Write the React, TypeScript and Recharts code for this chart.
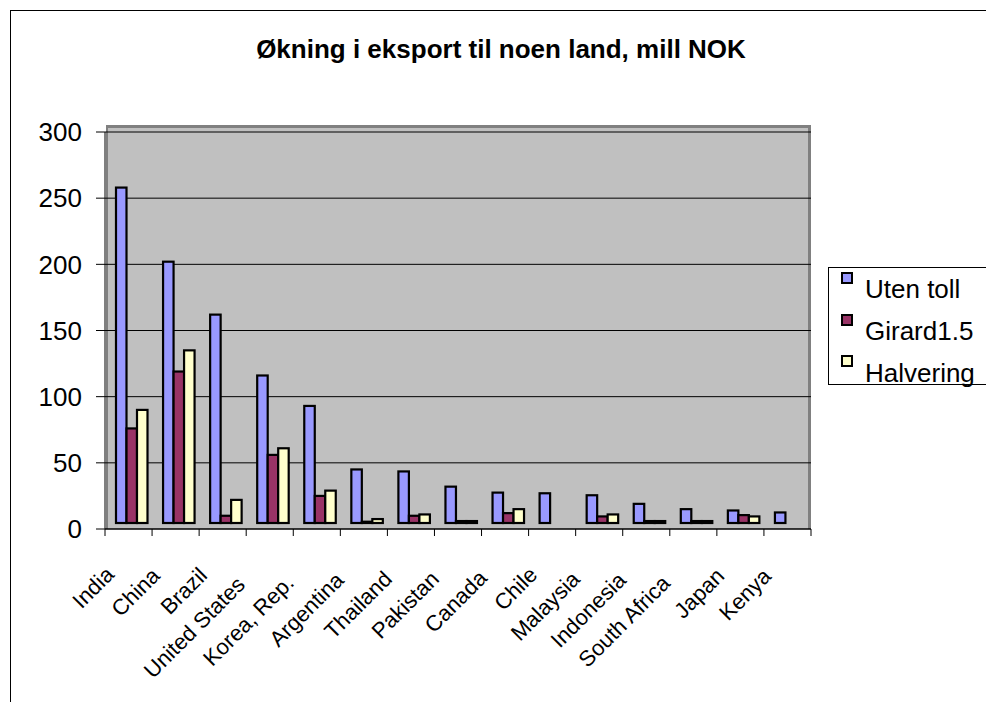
import React from 'react';
import { BarChart, Bar, XAxis, YAxis, CartesianGrid, Legend } from 'recharts';

const categories = [
  'India', 'China', 'Brazil', 'United States', 'Korea, Rep.', 'Argentina', 'Thailand',
  'Pakistan', 'Canada', 'Chile', 'Malaysia', 'Indonesia', 'South Africa', 'Japan', 'Kenya',
];
const utenToll = [258, 202, 162, 116, 93, 45, 43.5, 32, 27.5, 27, 25.5, 19, 15, 14, 12.5];
const girard = [76, 119, 10, 56, 25, 5.5, 10, 6, 12, 0, 9.5, 6, 6, 10.5, 0];
const halvering = [90, 135, 22, 61, 29, 7.5, 11, 6, 15, 0, 11, 6, 6, 9.5, 0];
const yTicks = [0, 50, 100, 150, 200, 250, 300];
const seriesKeys = ['u', 'g', 'h'];
const seriesNames = ['Uten toll', 'Girard1.5', 'Halvering'];
const seriesColors = ['#9999FF', '#993366', '#FFFFCC'];
const title = 'Økning i eksport til noen land, mill NOK';

const data = categories.map((c, i) => ({ name: c, u: utenToll[i], g: girard[i], h: halvering[i] }));

const FONT = "'Liberation Sans', Arial, sans-serif";
const X_TICK_SIZE = 8;

let ctx: CanvasRenderingContext2D | null = null;
function measure(text: string, size: number): number {
  try {
    if (!ctx) ctx = document.createElement('canvas').getContext('2d');
    if (ctx) {
      ctx.font = `${size}px ${FONT}`;
      return ctx.measureText(text).width;
    }
  } catch (e) {}
  return text.length * size * 0.5;
}

const XTick = (props: any) => {
  const { x, y, payload, index, visibleTicksCount, width } = props;
  const count = visibleTicksCount || categories.length;
  const band = (width || 706) / count;
  const axisY = y - X_TICK_SIZE;
  const L = measure(String(payload.value), 22);
  const px = x - 7.5 - 0.12 * L;
  const py = axisY + 41.2 + 0.12 * L;
  return (
    <g>
      <line x1={x - band / 2} x2={x - band / 2} y1={axisY} y2={axisY + 7} stroke="#000" strokeWidth={1} />
      {index === count - 1 && (
        <line x1={x + band / 2} x2={x + band / 2} y1={axisY} y2={axisY + 7} stroke="#000" strokeWidth={1} />
      )}
      <text
        x={px}
        y={py}
        textAnchor="end"
        fontSize={22}
        fontFamily={FONT}
        fill="#000"
        transform={`rotate(-45 ${px} ${py})`}
      >
        {payload.value}
      </text>
    </g>
  );
};

const Shape3D = (props: any) => {
  const { x, y, width, height, fill } = props;
  const h = height - 6;
  if (!(h > 0)) return <g />;
  return <rect x={x + 3} y={y} width={width} height={h} fill={fill} stroke="#000" strokeWidth={2.2} />;
};

const LegendBox = (props: any) => {
  const payload = [...(props.payload || [])].sort(
    (a: any, b: any) => seriesNames.indexOf(a.value) - seriesNames.indexOf(b.value)
  );
  return (
    <div
      style={{
        position: 'relative',
        width: 175,
        height: 118,
        boxSizing: 'border-box',
        border: '1px solid #000',
        background: '#fff',
        fontFamily: FONT,
      }}
    >
      {payload.map((p: any, i: number) => (
        <React.Fragment key={i}>
          <div
            style={{
              position: 'absolute',
              left: 12,
              top: 4 + 41.6 * i,
              width: 12,
              height: 12,
              boxSizing: 'border-box',
              border: '2px solid #000',
              background: p.color,
            }}
          />
          <div
            style={{
              position: 'absolute',
              left: 36,
              top: 8.3 + 41.6 * i,
              fontSize: 26,
              lineHeight: '26px',
              color: '#000',
              whiteSpace: 'nowrap',
            }}
          >
            {p.value}
          </div>
        </React.Fragment>
      ))}
    </div>
  );
};

export default function App() {
  return (
    <div
      style={{
        position: 'relative',
        left: 2,
        top: 2,
        width: 980,
        height: 720,
        border: '1px solid #000',
        overflow: 'hidden',
        background: '#fff',
        fontFamily: FONT,
      }}
    >
      <style>{`html,body{overflow:hidden}`}</style>
      <div
        style={{
          position: 'absolute',
          left: 0,
          top: 25,
          width: 980,
          textAlign: 'center',
          fontSize: 26,
          lineHeight: '26px',
          fontWeight: 'bold',
          color: '#000',
          whiteSpace: 'nowrap',
        }}
      >
        {title}
      </div>
      <div
        style={{
          position: 'absolute',
          left: 95,
          top: 114,
          width: 705,
          height: 404,
          boxSizing: 'border-box',
          background: '#C0C0C0',
          borderTop: '3px solid #808080',
          borderLeft: '2px solid #808080',
          borderRight: '3px solid #808080',
        }}
      />
      <div style={{ position: 'absolute', left: 0, top: 0 }}>
        <BarChart
          width={980}
          height={700}
          data={data}
          margin={{ top: 121, right: 180, bottom: 82, left: 14 }}
          barGap={0}
          barSize={10.5}
          style={{ fontFamily: FONT }}
        >
          <CartesianGrid horizontal vertical={false} stroke="#000" strokeWidth={1} fill="none" />
          <XAxis
            dataKey="name"
            interval={0}
            height={100}
            tickLine={false}
            tickSize={X_TICK_SIZE}
            tickMargin={0}
            axisLine={{ stroke: '#000', strokeWidth: 1 }}
            tick={<XTick />}
          />
          <YAxis
            domain={[0, 300]}
            ticks={yTicks}
            interval={0}
            width={80}
            tickSize={9}
            tickMargin={14}
            axisLine={{ stroke: '#000', strokeWidth: 1 }}
            tickLine={{ stroke: '#000', strokeWidth: 1 }}
            tick={{ fill: '#000', fontSize: 26, fontFamily: FONT }}
          />
          <Legend
            layout="horizontal"
            align="center"
            verticalAlign="middle"
            wrapperStyle={{ left: 817, top: 256, width: 175, height: 118 }}
            content={<LegendBox />}
          />
          {seriesKeys.map((k, i) => (
            <Bar
              key={k}
              dataKey={k}
              name={seriesNames[i]}
              fill={seriesColors[i]}
              isAnimationActive={false}
              shape={<Shape3D />}
            />
          ))}
        </BarChart>
      </div>
    </div>
  );
}
